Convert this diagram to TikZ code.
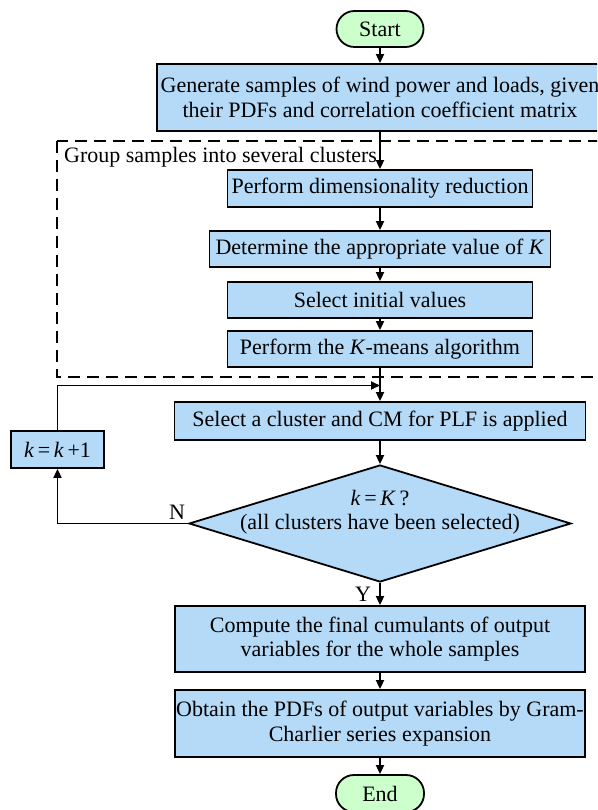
\documentclass[tikz,border=0pt]{standalone}
\usepackage{fontspec}
\setmainfont{Liberation Serif}
\usetikzlibrary{shapes.geometric,arrows.meta}
\definecolor{boxblue}{HTML}{B4DAF7}
\definecolor{termgreen}{HTML}{CCFFCC}
\begin{document}
\begin{tikzpicture}[x=1pt,y=-1pt,
  every node/.style={font=\fontsize{22}{24.5}\selectfont},
  proc/.style={draw, line width=1.8pt, fill=boxblue, inner sep=0pt, align=center},
  term/.style={draw, line width=1.8pt, fill=termgreen, rounded corners=18pt, inner sep=0pt},
  conn/.style={line width=1.8pt, -{Triangle[length=9pt,width=8pt]}},
  groupbox/.style={line width=1.8pt, dash pattern=on 12pt off 7pt}]
\useasboundingbox (0,0) rectangle (597,810);
\clip (0,0) rectangle (597,810);

% dashed grouping box
\draw[groupbox] (57,141) rectangle (615,377);
\node[anchor=west, inner sep=0pt] (grp) at (64,157) {Group samples into several clusters};

\node[term, minimum width=87pt, minimum height=36pt] (start) at (380,29) {Start};
\node[proc, minimum width=446pt, minimum height=67pt] (gen) at (380,97.5)
  {Generate samples of wind power and loads, given\\their PDFs and correlation coefficient matrix};
\node[proc, minimum width=305pt, minimum height=37pt] (dim) at (380,188.5) {Perform dimensionality reduction};
\node[proc, minimum width=341pt, minimum height=36pt] (det) at (380,249) {Determine the appropriate value of \textit{K}};
\node[proc, minimum width=305pt, minimum height=36pt] (init) at (380,300) {Select initial values};
\node[proc, minimum width=305pt, minimum height=36pt] (km) at (380,349) {Perform the \textit{K}-means algorithm};
\node[proc, minimum width=411pt, minimum height=38pt] (sel) at (380,421) {Select a cluster and CM for PLF is applied};
\node[proc, minimum width=93pt, minimum height=37pt] (kk) at (57.5,449.5) {\textit{k}\,=\,\textit{k}\,+1};
\node[draw, diamond, line width=1.8pt, fill=boxblue, inner sep=0pt,
      minimum width=382pt, minimum height=117pt] (dec) at (380,523.5) {};
\node[align=center, inner sep=0pt] (dectext) at (380,512) {\textit{k}\,=\,\textit{K}\,?\\(all clusters have been selected)};
\node[proc, minimum width=410pt, minimum height=66pt] (comp) at (380,639)
  {Compute the final cumulants of output\\variables for the whole samples};
\node[proc, minimum width=410pt, minimum height=67pt] (obt) at (380,723.5)
  {Obtain the PDFs of output variables by Gram-\\Charlier series expansion};
\node[term, minimum width=88pt, minimum height=37pt] (end) at (380,793.5) {End};

\coordinate (loopin) at (380,385.5);

\draw[conn] (start) -- (gen);
\draw[conn] (gen) -- (dim);
\draw[conn] (dim) -- (det);
\draw[conn] (det) -- (init);
\draw[conn] (init) -- (km);
\draw[conn] (km) -- (sel);
\draw[conn] (kk.north) |- (loopin);
\draw[conn] (sel) -- (dec.north);
\draw[conn] (dec.west) -| (kk.south);
\draw[conn] (dec.south) -- (comp.north);
\draw[conn] (comp) -- (obt);
\draw[conn] (obt) -- (end);

\node[inner sep=0pt] (nlab) at (177,512) {N};
\node[inner sep=0pt] (ylab) at (363,594) {Y};
\end{tikzpicture}
\end{document}
